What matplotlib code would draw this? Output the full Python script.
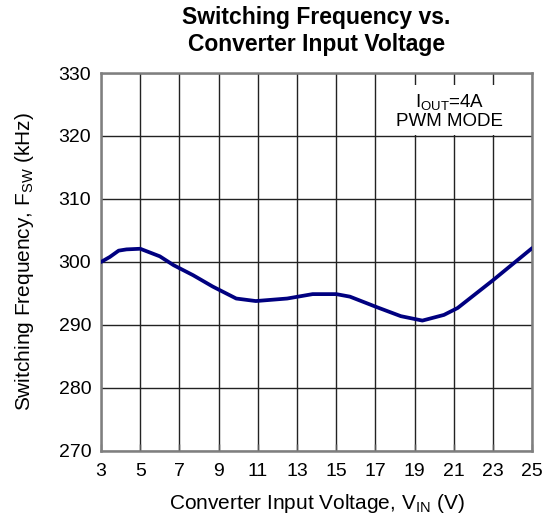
import numpy as np
import matplotlib

matplotlib.use("Agg")
import matplotlib.pyplot as plt
from matplotlib.patches import Rectangle

plt.rcParams["font.family"] = ["Liberation Sans", "DejaVu Sans"]
plt.rcParams["mathtext.fontset"] = "custom"
plt.rcParams["mathtext.rm"] = "Liberation Sans"

vin = [3.0, 3.45, 3.9, 4.3, 5.0, 6.0, 6.7, 7.7, 8.7, 9.9, 10.9, 12.5, 13.8,
       15.0, 15.7, 17.1, 18.3, 19.4, 20.5, 21.2, 23.0, 25.0]
fsw = [300.0, 300.8, 301.8, 302.0, 302.1, 300.9, 299.5, 297.9, 296.1, 294.2,
       293.8, 294.2, 294.9, 294.9, 294.5, 292.8, 291.4, 290.7, 291.6, 292.7,
       297.1, 302.2]
xticks = list(range(3, 26, 2))
yticks = list(range(270, 331, 10))

fig = plt.figure(figsize=(5.52, 5.17), dpi=100)
ax = fig.add_axes([0.183, 0.1277, 0.781, 0.7311])

ax.plot(vin, fsw, color="#000080", lw=2.7, zorder=4, solid_capstyle="round")

ax.set_xlim(3, 25)
ax.set_ylim(270, 330)
ax.set_xticks(xticks)
ax.set_yticks(yticks)
ax.grid(True, color="#222222", lw=1.0, zorder=1)
ax.set_axisbelow(True)
ax.tick_params(axis="both", direction="in", length=5, width=1, color="#555555",
               labelsize=14)
ax.tick_params(axis="x", pad=9)
ax.tick_params(axis="y", length=0, pad=7)
for s in ax.spines.values():
    s.set_color("#7f7f7f")
    s.set_linewidth(1.8)

ax.set_xlabel(r"Converter Input Voltage, V$_\mathregular{IN}$ (V)", fontsize=15,
              labelpad=8)
ax.set_ylabel(r"Switching Frequency, F$_\mathregular{SW}$ (kHz)", fontsize=15,
              labelpad=16)
ax.set_title("Switching Frequency vs.\nConverter Input Voltage", fontsize=16.5,
             fontweight="bold", pad=15.5, linespacing=1.25)

# white patch behind the note
ax.add_patch(Rectangle((17.64, 320.16), 6.9, 7.95, facecolor="white",
                       edgecolor="none", zorder=3))
ax.text(20.8, 324.0, "$\\mathregular{I_{OUT}}$=4A\nPWM MODE", ha="center", va="center",
        fontsize=13.5, linespacing=1.1, zorder=5)

plt.savefig("out.png", dpi=100)
